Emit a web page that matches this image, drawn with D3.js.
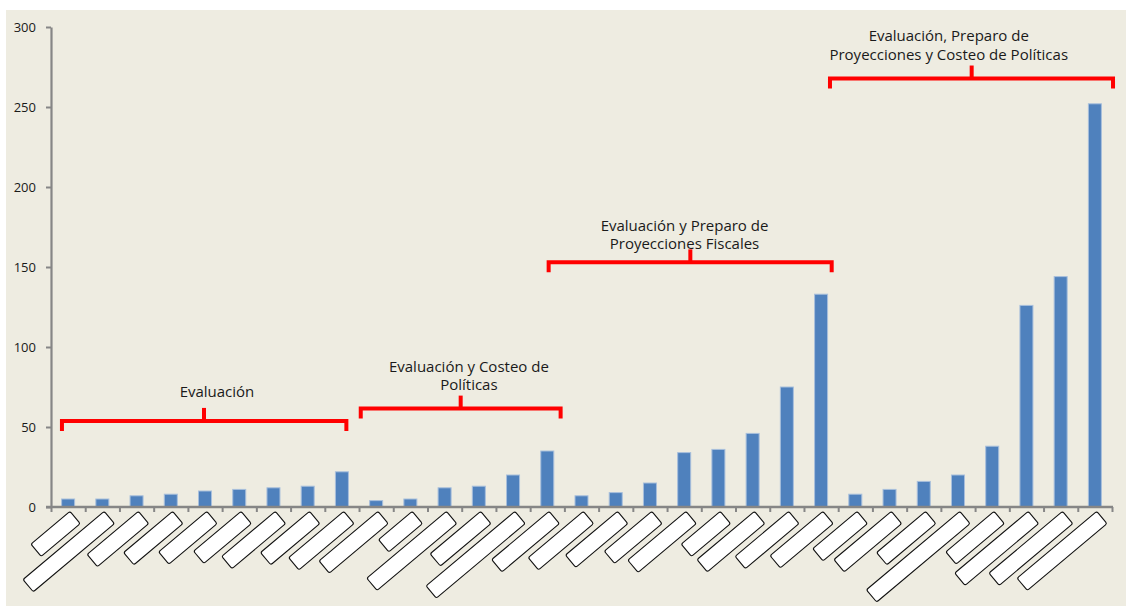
<!DOCTYPE html>
<html>
<head>
<meta charset="utf-8">
<script src="https://cdn.jsdelivr.net/npm/d3@7"></script>
<style>
  html, body { margin: 0; padding: 0; background: #ffffff; }
  svg { display: block; }
  text { font-family: "Open Sans", "Liberation Sans", sans-serif; }
</style>
</head>
<body>
<svg id="chart" width="1126" height="606"></svg>
<script>
// ---- data ----
const categories = [
  "c01", "c02", "c03", "c04", "c05", "c06", "c07", "c08", "c09",
  "c10", "c11", "c12", "c13", "c14", "c15",
  "c16", "c17", "c18", "c19", "c20", "c21", "c22", "c23",
  "c24", "c25", "c26", "c27", "c28", "c29", "c30", "c31"
];
const values = [
  5, 5, 7, 8, 10, 11, 12, 13, 22,
  4, 5, 12, 13, 20, 35,
  7, 9, 15, 34, 36, 46, 75, 133,
  8, 11, 16, 20, 38, 126, 144, 252
];
const yTicks = [0, 50, 100, 150, 200, 250, 300];

// group labels, each with its own lines
const groupLabels = [
  ["Evaluación"],
  ["Evaluación y Costeo de", "Políticas"],
  ["Evaluación y Preparo de", "Proyecciones Fiscales"],
  ["Evaluación, Preparo de", "Proyecciones y Costeo de Políticas"]
];

// ---- layout / style ----
const W = 1126, H = 606;
const plot = { left: 51, right: 1112, top: 27, bottom: 507 };

// bracket geometry in category units (x) and value units (y)
const bracketSpec = [
  { x0: 0.32,  x1: 8.63,  notch: 4.47,  level: 53.8,  textX: 4.85,  textY: 69.0 },
  { x0: 9.05,  x1: 14.89, notch: 11.97, level: 61.5,  textX: 12.21, textY: 84.4 },
  { x0: 14.54, x1: 22.81, notch: 18.68, level: 152.9, textX: 18.51, textY: 172.5 },
  { x0: 22.76, x1: 31.03, notch: 26.90, level: 267.8, textX: 26.23, textY: 291.3 }
];
const lineStep = [18, 17.6, 18.3, 19.3];

// lengths of the blank rotated tabs under each category
const tabLengths = [
  51, 106, 67, 64, 63, 62, 70, 64, 72,
  77, 44, 104, 66, 116, 75,
  72, 68, 62, 76, 51, 75, 70, 69,
  58, 75, 64, 122, 63, 96, 96, 104
];

const svg = d3.select("#chart");

// panel background
svg.append("rect")
  .attr("x", 6).attr("y", 10)
  .attr("width", W - 6).attr("height", H - 10)
  .attr("fill", "#EEECE1");

const x = d3.scaleBand()
  .domain(categories)
  .range([plot.left, plot.right])
  .paddingInner(0.62)
  .paddingOuter(0.31);

const xPos = d3.scaleLinear()
  .domain([0, categories.length])
  .range([plot.left, plot.right]);

const y = d3.scaleLinear()
  .domain([0, 300])
  .range([plot.bottom, plot.top]);

// bars
svg.append("g")
  .selectAll("rect")
  .data(values)
  .join("rect")
  .attr("x", (d, i) => x(categories[i]))
  .attr("y", d => y(d))
  .attr("width", x.bandwidth())
  .attr("height", d => y(0) - y(d))
  .attr("fill", "#4F81BD")
  .attr("stroke", "#a8bfdc")
  .attr("stroke-width", 1);

// y axis
const yAxis = svg.append("g")
  .attr("transform", `translate(${plot.left},0)`)
  .call(d3.axisLeft(y).tickValues(yTicks).tickSize(5).tickSizeOuter(0).tickPadding(10));
yAxis.select(".domain").attr("stroke", "#868686").attr("stroke-width", 2.2);
yAxis.selectAll(".tick line").attr("stroke", "#868686").attr("stroke-width", 2);
yAxis.selectAll(".tick text")
  .attr("fill", "#1a1a1a")
  .style("font-size", "13px")
  .style("font-family", "'Open Sans', sans-serif");

// x axis with ticks between categories
const xAxis = svg.append("g")
  .attr("transform", `translate(0,${plot.bottom})`)
  .call(d3.axisBottom(xPos)
    .tickValues(d3.range(0, categories.length + 1))
    .tickFormat("")
    .tickSize(5)
    .tickSizeOuter(0));
xAxis.select(".domain")
  .attr("d", `M${plot.left - 5},0H${plot.right + 1}`)
  .attr("stroke", "#868686").attr("stroke-width", 2.4);
xAxis.selectAll(".tick line").attr("stroke", "#868686").attr("stroke-width", 2);

// blank rotated label tabs
const tabs = svg.append("g")
  .selectAll("g")
  .data(categories)
  .join("g")
  .attr("transform", d => `translate(${x(d) + x.bandwidth() / 2 + 7},517.5) rotate(-40)`);
tabs.append("rect")
  .attr("x", (d, i) => -tabLengths[i])
  .attr("y", -8)
  .attr("width", (d, i) => tabLengths[i])
  .attr("height", 16)
  .attr("rx", 2)
  .attr("fill", "#ffffff")
  .attr("stroke", "#111111")
  .attr("stroke-width", 1.1);

// group brackets
const br = svg.append("g");
bracketSpec.forEach((b, i) => {
  const yh = y(b.level);
  br.append("path")
    .attr("d", `M${xPos(b.x0)},${yh + 10}V${yh}H${xPos(b.x1)}V${yh + 10}`)
    .attr("fill", "none")
    .attr("stroke", "#FF0000")
    .attr("stroke-width", 4)
    .attr("stroke-linejoin", "miter");
  br.append("path")
    .attr("d", `M${xPos(b.notch)},${yh}V${yh - 13}`)
    .attr("stroke", "#FF0000")
    .attr("stroke-width", 4);

  const t = br.append("text")
    .attr("x", xPos(b.textX))
    .attr("y", y(b.textY))
    .attr("text-anchor", "middle")
    .attr("fill", "#1a1a1a")
    .style("font-size", "15px");
  groupLabels[i].forEach((line, k) => {
    t.append("tspan")
      .attr("x", xPos(b.textX))
      .attr("y", y(b.textY) + k * lineStep[i])
      .text(line);
  });
});
</script>
</body>
</html>
